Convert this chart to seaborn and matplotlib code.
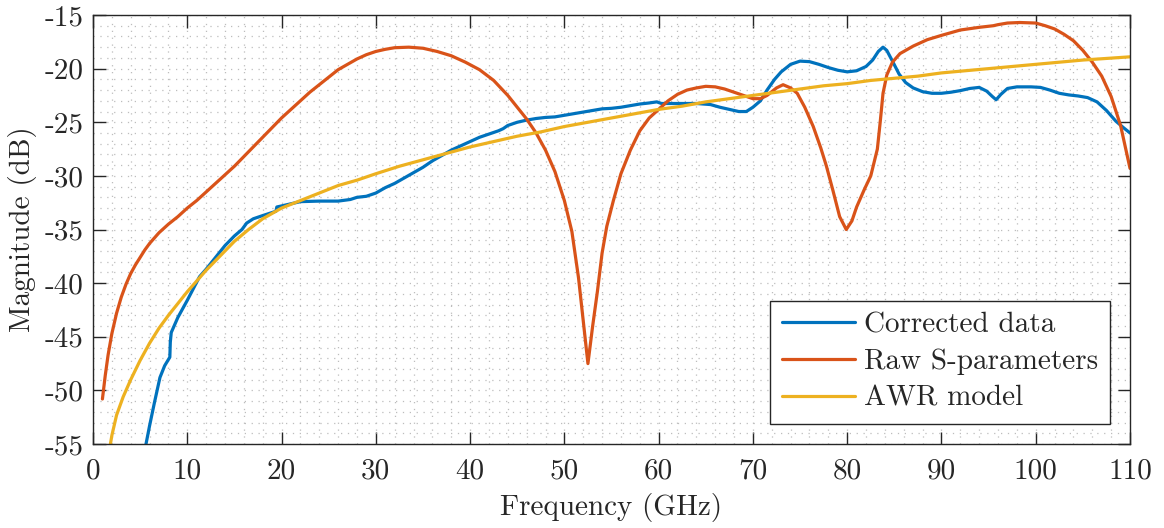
import numpy as np
import pandas as pd
import seaborn as sns
import matplotlib.pyplot as plt
from matplotlib.ticker import MultipleLocator

# corrected data (blue)
f_corr = [5.4, 6.0, 6.5, 7.1, 7.6, 8.15, 8.2, 8.3, 9.0, 10.0, 11.3, 12.0, 13.0, 14.0, 15.0, 15.8,
          16.3, 17.0, 18.0, 19.4, 19.5, 20.5, 22.0, 24.0, 26.0, 27.3, 28.0, 29.0, 30.0, 31.0,
          32.0, 33.0, 34.0, 35.0, 36.0, 37.0, 38.0, 39.0, 40.0, 41.0, 42.0, 43.0, 43.5, 44.0,
          45.0, 46.0, 47.0, 48.0, 49.0, 50.0, 51.0, 52.0, 53.0, 54.0, 55.0, 56.0, 57.0, 58.0,
          59.0, 59.8, 60.3, 62.0, 64.0, 65.5, 66.5, 67.5, 68.5, 69.3, 70.0, 70.8, 71.5, 72.3,
          73.0, 74.0, 75.0, 76.0, 77.0, 78.0, 79.0, 80.0, 81.0, 82.0, 82.7, 83.3, 83.8, 84.2,
          84.8, 85.5, 86.2, 87.0, 88.0, 89.0, 90.0, 91.0, 92.0, 93.0, 94.0, 94.8, 95.4, 95.8,
          96.3, 97.0, 98.0, 99.5, 100.5, 101.5, 102.5, 103.5, 104.5, 105.5, 106.5, 107.5, 108.5,
          109.3, 110.0]
db_corr = [-56.0, -53.3, -51.2, -48.8, -47.7, -46.9, -45.5, -44.6, -43.2, -41.6, -39.4, -38.7,
           -37.6, -36.5, -35.6, -35.0, -34.4, -34.0, -33.7, -33.3, -32.9, -32.7, -32.4, -32.35,
           -32.35, -32.2, -32.0, -31.9, -31.6, -31.1, -30.7, -30.2, -29.7, -29.2, -28.6, -28.1,
           -27.6, -27.2, -26.8, -26.4, -26.1, -25.8, -25.6, -25.3, -25.0, -24.8, -24.65, -24.55,
           -24.5, -24.35, -24.2, -24.05, -23.9, -23.75, -23.7, -23.6, -23.45, -23.3, -23.2,
           -23.1, -23.25, -23.25, -23.25, -23.35, -23.6, -23.8, -24.0, -24.0, -23.6, -23.0,
           -22.0, -21.0, -20.3, -19.6, -19.3, -19.35, -19.6, -19.9, -20.15, -20.3, -20.2, -19.8,
           -19.2, -18.4, -18.0, -18.3, -19.3, -20.5, -21.3, -21.8, -22.15, -22.3, -22.3, -22.2,
           -22.05, -21.85, -21.75, -22.1, -22.6, -22.9, -22.4, -21.85, -21.7, -21.7, -21.75,
           -22.0, -22.3, -22.45, -22.55, -22.7, -23.1, -23.9, -24.9, -25.5, -26.0]

# raw S-parameters (orange)
f_raw = [1.0, 1.3, 1.6, 2.0, 2.5, 3.0, 3.5, 4.0, 4.5, 5.0, 5.5, 6.0, 7.0, 8.0, 9.0, 10.0, 11.0,
         12.0, 13.0, 14.0, 15.0, 16.0, 17.0, 18.0, 19.0, 20.0, 21.0, 22.0, 23.0, 24.0, 25.0,
         26.0, 27.0, 28.0, 29.0, 30.0, 31.0, 32.0, 33.5, 35.0, 36.5, 38.0, 39.5, 41.0, 42.5,
         44.0, 45.0, 46.0, 47.0, 48.0, 49.0, 50.0, 50.8, 51.5, 52.0, 52.5, 53.0, 53.5, 54.0,
         54.5, 55.2, 56.0, 57.0, 58.0, 59.0, 60.0, 61.0, 62.0, 63.0, 64.0, 65.0, 66.0, 67.0,
         68.0, 69.0, 70.0, 70.8, 71.5, 72.5, 73.2, 74.0, 74.7, 75.5, 76.4, 77.2, 77.8, 78.5,
         79.2, 79.9, 80.5, 81.0, 81.8, 82.5, 83.2, 83.5, 83.8, 84.2, 84.8, 85.6, 87.0, 88.5,
         90.0, 92.0, 94.0, 95.5, 96.0, 97.0, 98.3, 100.0, 101.0, 102.0, 103.0, 104.0, 105.0,
         106.0, 107.0, 108.0, 109.0, 110.0]
db_raw = [-50.8, -48.6, -46.7, -44.7, -42.8, -41.3, -40.1, -39.1, -38.3, -37.6, -36.9, -36.3,
          -35.3, -34.5, -33.8, -33.0, -32.3, -31.5, -30.7, -29.9, -29.1, -28.2, -27.3, -26.4,
          -25.5, -24.6, -23.8, -23.0, -22.2, -21.5, -20.8, -20.1, -19.6, -19.1, -18.7, -18.4,
          -18.2, -18.05, -18.0, -18.1, -18.4, -18.8, -19.4, -20.1, -21.1, -22.5, -23.6, -24.7,
          -26.0, -27.6, -29.6, -32.3, -35.2, -39.5, -43.5, -47.5, -44.0, -40.8, -37.2, -34.7,
          -32.3, -29.8, -27.6, -25.8, -24.6, -23.8, -23.0, -22.4, -22.0, -21.8, -21.65, -21.7,
          -21.9, -22.2, -22.5, -22.8, -22.8, -22.5, -21.8, -21.5, -21.8, -22.3, -23.6, -25.4,
          -27.4, -29.1, -31.4, -33.8, -35.0, -34.2, -32.9, -31.3, -30.0, -27.5, -25.0, -22.3,
          -20.6, -19.4, -18.6, -17.9, -17.3, -16.9, -16.4, -16.15, -16.0, -15.9, -15.75, -15.7,
          -15.75, -16.0, -16.3, -16.8, -17.4, -18.3, -19.4, -20.7, -22.6, -25.3, -29.3]

# AWR model (yellow)
f_awr = [1.6, 2.0, 2.5, 3.2, 4.0, 5.0, 6.0, 7.0, 8.0, 9.0, 10.0, 11.0, 12.0, 13.0, 14.0, 15.0,
         16.5, 18.0, 20.0, 22.0, 24.0, 26.0, 28.0, 30.0, 32.5, 35.0, 37.5, 40.0, 42.5, 45.0,
         47.5, 50.0, 52.5, 55.0, 57.5, 60.0, 62.5, 65.0, 67.5, 70.0, 72.5, 75.0, 77.5, 80.0,
         82.5, 85.0, 87.5, 90.0, 92.5, 95.0, 97.5, 100.0, 102.5, 105.0, 107.5, 110.0]
db_awr = [-56.3, -54.2, -52.3, -50.6, -49.0, -47.2, -45.6, -44.2, -43.0, -41.9, -40.8, -39.8,
          -38.8, -37.9, -37.0, -36.1, -35.0, -34.0, -33.0, -32.3, -31.6, -30.9, -30.4, -29.8,
          -29.1, -28.5, -27.9, -27.3, -26.8, -26.3, -25.9, -25.4, -25.0, -24.6, -24.2, -23.8,
          -23.5, -23.1, -22.8, -22.5, -22.2, -21.9, -21.6, -21.4, -21.1, -20.9, -20.7, -20.4,
          -20.2, -20.0, -19.8, -19.6, -19.4, -19.2, -19.05, -18.9]

names = ['Corrected data', 'Raw S-parameters', 'AWR model']
colors = ['#0072BD', '#D95319', '#EDB120']

df = pd.concat([
    pd.DataFrame({'f': f_corr, 'db': db_corr, 'series': names[0]}),
    pd.DataFrame({'f': f_raw, 'db': db_raw, 'series': names[1]}),
    pd.DataFrame({'f': f_awr, 'db': db_awr, 'series': names[2]}),
])

sns.set_style('ticks')
plt.rcParams['font.family'] = ['cmr10', 'DejaVu Serif']
plt.rcParams['axes.unicode_minus'] = False
plt.rcParams['mathtext.fontset'] = 'cm'

fig = plt.figure(figsize=(11.64, 5.28), dpi=100)
ax = fig.add_axes([0.0799, 0.159, 0.8909, 0.8126])

sns.lineplot(data=df, x='f', y='db', hue='series', palette=dict(zip(names, colors)),
             estimator=None, sort=False, linewidth=2.3, ax=ax)

ax.set_xlim(0, 110)
ax.set_ylim(-55, -15)
ax.xaxis.set_major_locator(MultipleLocator(10))
ax.xaxis.set_minor_locator(MultipleLocator(2))
ax.yaxis.set_major_locator(MultipleLocator(5))
ax.yaxis.set_minor_locator(MultipleLocator(1))
ax.grid(True, which='both', linestyle=(0, (1, 4.5)), color='#bdbdbd', linewidth=0.9)
ax.set_axisbelow(True)
ax.tick_params(which='major', direction='in', length=9, width=1, top=True, right=True,
               labelsize=21, color='#262626', labelcolor='#262626', pad=7)
ax.tick_params(axis='x', which='major', pad=10)
ax.tick_params(which='minor', length=0)
for s in ax.spines.values():
    s.set_color('#262626')
    s.set_linewidth(1)

ax.set_xlabel('Frequency (GHz)', fontsize=21, color='#262626', labelpad=6)
ax.set_ylabel('Magnitude (dB)', fontsize=21, color='#262626', labelpad=5)

leg = ax.legend(loc='lower right', fontsize=21, frameon=True, fancybox=False, framealpha=1,
                edgecolor='#262626', handlelength=2.5, handletextpad=0.3, borderpad=0.4,
                labelspacing=0.35, borderaxespad=0.7, title=None)
leg.get_frame().set_linewidth(1)
for line in leg.get_lines():
    line.set_linewidth(2.3)

fig.savefig('out.png', dpi=100)
